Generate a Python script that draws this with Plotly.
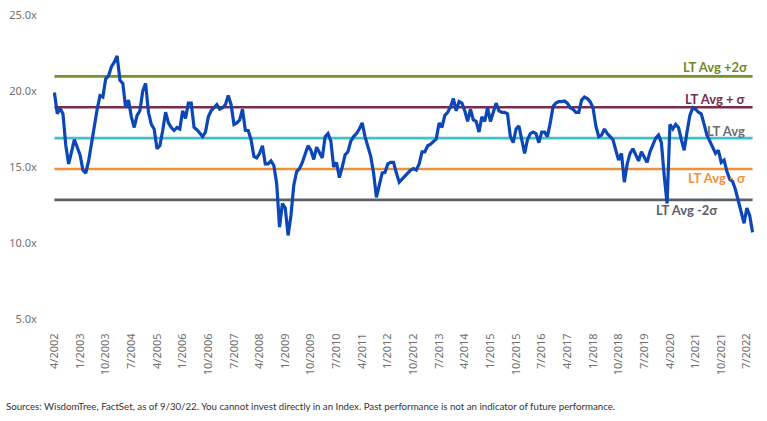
import plotly.graph_objects as go

# Monthly forward P/E, 4/2002 .. 9/2022
start_year, start_month = 2002, 4
pe = [
    19.9, 18.5, 18.85, 18.5, 16.4, 15.2, 16.0, 16.8, 16.3, 15.8,
    14.8, 14.6, 15.4, 16.6, 17.7, 18.8, 19.7, 19.6, 20.8, 21.0,
    21.6, 21.9, 22.3, 20.7, 20.5, 18.9, 19.4, 18.3, 17.6, 18.4,
    18.7, 20.0, 20.5, 18.6, 17.8, 17.5, 16.2, 16.4, 17.4, 18.6,
    17.9, 17.6, 17.4, 17.6, 17.5, 18.7, 18.2, 19.2, 19.2, 17.6,
    17.45, 17.2, 17.0, 17.3, 18.3, 18.7, 18.9, 19.1, 18.8, 18.9,
    19.1, 19.7, 19.1, 17.8, 17.9, 18.1, 18.8, 17.4, 17.4, 16.8,
    15.7, 15.6, 15.9, 16.4, 15.2, 15.2, 15.4, 15.1, 13.9, 11.05,
    12.6, 12.3, 10.5, 11.8, 13.8, 14.7, 14.9, 15.3, 15.85, 16.4,
    16.1, 15.5, 16.3, 15.9, 15.6, 17.0, 17.2, 16.7, 15.0, 15.3,
    14.3, 15.0, 15.8, 16.0, 16.7, 17.0, 17.2, 17.5, 17.9, 17.0,
    16.3, 15.7, 14.6, 13.0, 13.8, 14.6, 14.65, 15.2, 15.3, 15.3,
    14.6, 14.0, 14.2, 14.4, 14.6, 14.8, 14.9, 14.8, 15.2, 16.0,
    16.0, 16.4, 16.5, 16.7, 16.85, 17.9, 17.6, 18.4, 18.6, 18.95,
    19.5, 18.7, 19.3, 19.2, 18.7, 18.0, 18.8, 18.1, 18.0, 17.3,
    18.3, 18.0, 18.9, 18.0, 18.7, 19.2, 18.7, 18.6, 18.6, 18.5,
    17.0, 16.6, 17.5, 17.7, 16.8, 15.9, 16.8, 17.2, 17.3, 17.2,
    16.6, 17.3, 17.3, 17.0, 17.9, 19.0, 19.2, 19.3, 19.3, 19.35,
    19.2, 18.9, 18.8, 18.6, 18.6, 19.4, 19.6, 19.5, 19.3, 18.9,
    17.7, 17.0, 17.1, 17.5, 17.2, 17.0, 16.8, 16.1, 15.45, 15.9,
    14.0, 15.2, 15.9, 16.2, 15.8, 15.4, 16.0, 15.6, 15.3, 16.0,
    16.5, 16.9, 17.1, 16.6, 14.4, 12.6, 17.8, 17.5, 17.8, 17.6,
    16.8, 16.1, 17.3, 18.4, 18.9, 18.8, 18.6, 18.5, 17.8, 17.1,
    16.7, 16.3, 15.9, 16.1, 15.3, 15.45, 14.7, 14.2, 14.05, 13.5,
    12.8, 12.2, 11.3, 12.3, 11.8, 10.7,
]

months = []
y, m = start_year, start_month
for _ in pe:
    months.append(f"{m}/{y}")
    m += 1
    if m > 12:
        m = 1
        y += 1

tick_labels = months[::9]

lt_avg = 16.9
sigma = 2.03

bands = [
    ("LT Avg +2σ", lt_avg + 2 * sigma, "#76922a", "#6e8c26"),
    ("LT Avg + σ", lt_avg + sigma, "#7b2c4b", "#7b2c4b"),
    ("LT Avg", lt_avg, "#3cc3cb", "#6a6e73"),
    ("LT Avg - σ", lt_avg - sigma, "#f0913a", "#f0913a"),
    ("LT Avg -2σ", lt_avg - 2 * sigma, "#5b6067", "#5b6067"),
]
# label placement (paper x of right edge, y in data units)
label_pos = [(0.9943, 21.58), (0.9914, 19.47), (0.9900, 17.40), (0.9914, 14.28), (0.9515, 12.14)]

fig = go.Figure()
for name, val, col, _ in bands:
    fig.add_trace(go.Scatter(
        x=months, y=[val] * len(months), mode="lines",
        line=dict(color=col, width=2.6), hoverinfo="skip", showlegend=False))

fig.add_trace(go.Scatter(
    x=months, y=pe, mode="lines",
    line=dict(color="#0b47b6", width=3.2), showlegend=False))

for (name, val, _, tcol), (px, py) in zip(bands, label_pos):
    fig.add_annotation(
        xref="paper", yref="y", x=px, y=py, text=f"<b>{name}</b>",
        showarrow=False, xanchor="right", yanchor="middle",
        font=dict(family="Lato", size=13, color=tcol))

L, R, T, B = 53, 13, 15, 102
W, H = 767, 421
pw = W - L - R
fig.add_annotation(
    xref="paper", yref="paper", x=(4 - L) / pw, y=-(406 - (H - B)) / (H - T - B),
    text="Sources: WisdomTree, FactSet, as of 9/30/22. You cannot invest directly in an Index. Past performance is not an indicator of future performance.",
    showarrow=False, xanchor="left", yanchor="middle",
    font=dict(family="Lato", size=9.7, color="#333333"))

fig.update_layout(
    width=W, height=H,
    margin=dict(l=L, r=R, t=T, b=B, pad=0, autoexpand=False),
    paper_bgcolor="white", plot_bgcolor="white",
    font=dict(family="Noto Sans", color="#707070"),
    xaxis=dict(
        type="category", categoryorder="array", categoryarray=months,
        range=[-0.5, len(pe) - 0.5], automargin=False,
        tickmode="array", tickvals=tick_labels, ticktext=tick_labels,
        tickangle=-90, showgrid=False, zeroline=False, showline=False,
        ticks="outside", ticklen=9, tickcolor="rgba(0,0,0,0)",
        tickfont=dict(family="Noto Sans", size=11, color="#707070")),
    yaxis=dict(
        range=[5, 25], tickvals=[5, 10, 15, 20, 25], automargin=False,
        ticktext=["5.0x", "10.0x", "15.0x", "20.0x", "25.0x"],
        showgrid=False, zeroline=False, showline=False,
        ticks="outside", ticklen=13, tickcolor="rgba(0,0,0,0)",
        tickfont=dict(family="Noto Sans", size=11, color="#707070")),
)

fig.write_html("out.html")
